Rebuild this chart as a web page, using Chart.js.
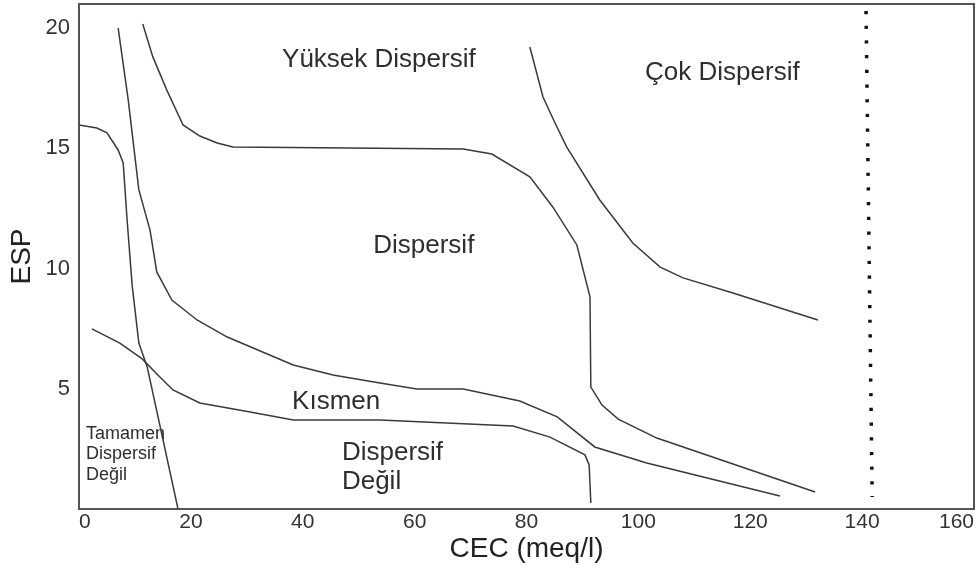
<!DOCTYPE html>
<html>
<head>
<meta charset="utf-8">
<script src="https://cdn.jsdelivr.net/npm/chart.js@4/dist/chart.umd.min.js"></script>
<style>
  html, body { margin: 0; padding: 0; background: #ffffff; }
  canvas { display: block; }
</style>
</head>
<body>
<canvas id="c" width="980" height="568"></canvas>
<script>
// ---- Data (CEC in meq/l, ESP) ----
const xTickValues = [0, 20, 40, 60, 80, 100, 120, 140, 160];
const yTickValues = [5, 10, 15, 20];

// Boundary: "Tamamen Dispersif Değil"
const tamamenCEC = [0, 3.2, 5.0, 7.0, 7.9, 8.6, 9.5, 10.7, 12.2, 17.7];
const tamamenESP = [15.97, 15.84, 15.64, 14.93, 14.39, 12.02, 9.31, 6.90, 5.90, 0];

// Boundary: Kısmen (upper) / Dispersif (lower)
const kismenUstCEC = [7.0, 8.8, 10.7, 12.7, 13.9, 16.6, 21.1, 26.5, 38.3, 45.4, 53.8, 60.4, 68.7, 78.8, 85.5, 92.2, 101.5, 125.3];
const kismenUstESP = [20.0, 17.01, 13.27, 11.60, 9.86, 8.69, 7.86, 7.15, 5.99, 5.57, 5.24, 4.99, 4.99, 4.49, 3.83, 2.58, 1.91, 0.54];

// Boundary: Dispersif (upper) / Yüksek Dispersif
const dispersifCEC = [11.4, 13.2, 15.7, 18.6, 21.6, 24.7, 27.5, 68.7, 73.8, 80.6, 84.7, 89.0, 91.35, 91.5, 93.5, 96.4, 103.3, 131.6];
const dispersifESP = [20.17, 18.80, 17.42, 15.97, 15.51, 15.22, 15.05, 14.97, 14.76, 13.81, 12.56, 10.98, 8.82, 5.07, 4.32, 3.74, 2.95, 0.71];

// Boundary: Çok Dispersif
const cokCEC = [80.6, 82.95, 85.1, 87.2, 93.1, 99.0, 103.9, 108.0, 116.9, 132.1];
const cokESP = [19.21, 17.13, 16.05, 15.05, 12.85, 11.06, 10.06, 9.61, 8.98, 7.86];

// Boundary: Dispersif Değil (upper)
const degilCEC = [2.3, 7.3, 11.3, 14.1, 16.8, 21.6, 30.6, 38.3, 53.8, 77.6, 84.2, 90.45, 91.2, 91.5];
const degilESP = [7.49, 6.90, 6.24, 5.57, 4.95, 4.41, 4.03, 3.70, 3.70, 3.45, 2.99, 2.25, 1.83, 0.25];

// Dotted limit line near CEC = 140
const limitCEC = [140.7, 141.8];
const limitESP = [20.71, 0.5];

// Region labels (text, CEC, ESP of the left baseline, font size)
const regionText = ['Yüksek Dispersif', 'Çok Dispersif', 'Dispersif', 'Kısmen', 'Dispersif', 'Değil', 'Tamamen', 'Dispersif', 'Değil'];
const regionCEC  = [36.3, 101.2, 52.6, 38.1, 47.0, 47.0, 1.25, 1.25, 1.25];
const regionESP  = [18.38, 17.84, 10.65, 4.16, 2.04, 0.83, 2.91, 2.08, 1.21];
const regionSize = [26, 26, 26, 26, 26, 26, 18, 18, 18];

const FONT = "'Liberation Sans', Arial, Helvetica, sans-serif";
const LINE_COLOR = '#3a3a3a';

function pts(xs, ys) { return xs.map((x, i) => ({ x: x, y: ys[i] })); }
function curve(label, xs, ys) {
  return {
    label: label,
    data: pts(xs, ys),
    showLine: true,
    borderColor: LINE_COLOR,
    borderWidth: 1.5,
    pointRadius: 0,
    tension: 0,
    fill: false
  };
}

const datasets = [
  curve('Tamamen Dispersif Değil sınırı', tamamenCEC, tamamenESP),
  curve('Kısmen üst sınır', kismenUstCEC, kismenUstESP),
  curve('Dispersif üst sınır', dispersifCEC, dispersifESP),
  curve('Çok Dispersif sınırı', cokCEC, cokESP),
  curve('Dispersif Değil üst sınır', degilCEC, degilESP),
  {
    label: 'Sınır (140)',
    data: pts(limitCEC, limitESP),
    showLine: true,
    borderColor: '#111111',
    borderWidth: 3.5,
    borderDash: [3.2, 11.5],
    borderCapStyle: 'butt',
    pointRadius: 0,
    fill: false
  }
];

const framePlugin = {
  id: 'frame',
  beforeDatasetsDraw(chart) {
    const { ctx, chartArea: a } = chart;
    ctx.save();
    ctx.strokeStyle = '#555555';
    ctx.lineWidth = 2;
    ctx.beginPath();
    ctx.moveTo(a.left, a.top);
    ctx.lineTo(a.right, a.top);
    ctx.lineTo(a.right, a.bottom);
    ctx.stroke();
    ctx.restore();
  }
};

const regionLabelPlugin = {
  id: 'regionLabels',
  afterDatasetsDraw(chart) {
    const { ctx, scales } = chart;
    ctx.save();
    ctx.fillStyle = '#2e2e2e';
    ctx.textAlign = 'left';
    ctx.textBaseline = 'alphabetic';
    regionText.forEach((t, i) => {
      ctx.font = regionSize[i] + 'px ' + FONT;
      ctx.fillText(t, scales.x.getPixelForValue(regionCEC[i]), scales.y.getPixelForValue(regionESP[i]));
    });
    ctx.restore();
  }
};

new Chart(document.getElementById('c'), {
  type: 'scatter',
  data: { datasets: datasets },
  options: {
    responsive: false,
    animation: false,
    layout: { padding: { top: 4, right: 6, left: 0, bottom: 0 } },
    plugins: {
      legend: { display: false },
      tooltip: { enabled: false }
    },
    scales: {
      x: {
        type: 'linear',
        min: 0,
        max: 160,
        grid: { display: false, drawTicks: false },
        border: { display: true, color: '#555555', width: 2 },
        ticks: {
          align: 'inner',
          padding: 1,
          color: '#333333',
          font: { family: FONT, size: 21 }
        },
        afterBuildTicks(scale) { scale.ticks = xTickValues.map(v => ({ value: v })); },
        afterFit(scale) { scale.height = 59; scale.paddingLeft = 0; scale.paddingRight = 0; },
        title: {
          display: true,
          text: 'CEC (meq/l)',
          color: '#222222',
          font: { family: FONT, size: 28 },
          padding: { top: 0, bottom: 2 }
        }
      },
      y: {
        type: 'linear',
        min: 0,
        max: 21,
        grid: { display: false, drawTicks: false },
        border: { display: true, color: '#555555', width: 2 },
        ticks: {
          padding: 9,
          color: '#333333',
          font: { family: FONT, size: 22 }
        },
        afterBuildTicks(scale) { scale.ticks = yTickValues.map(v => ({ value: v })); },
        afterFit(scale) { scale.width = 79; scale.paddingTop = 0; scale.paddingBottom = 0; },
        title: {
          display: true,
          text: 'ESP',
          color: '#222222',
          font: { family: FONT, size: 28 },
          padding: { top: 5, bottom: 0 }
        }
      }
    }
  },
  plugins: [framePlugin, regionLabelPlugin]
});
</script>
</body>
</html>
